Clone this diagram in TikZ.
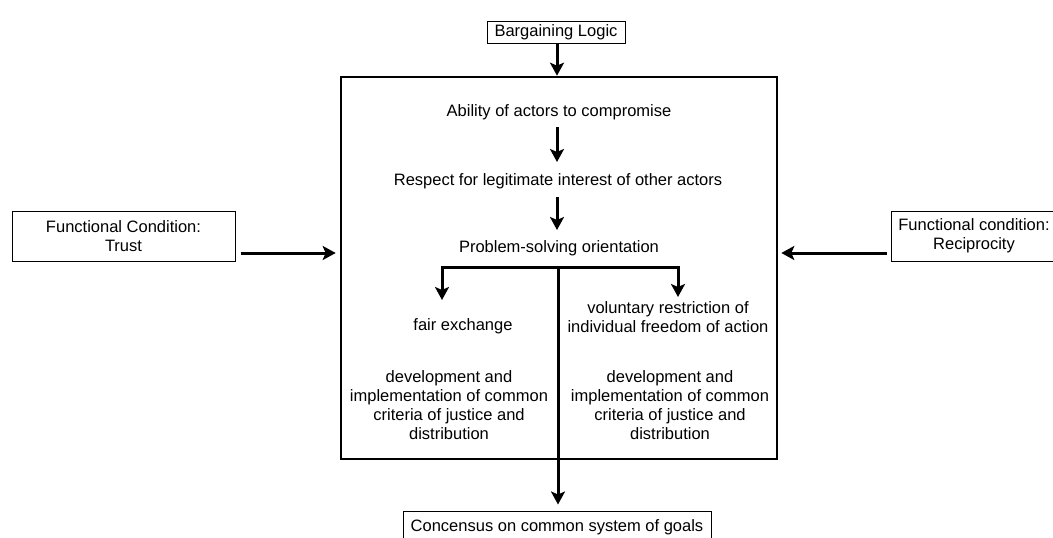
\documentclass[tikz,border=0pt]{standalone}
\usepackage{fontspec}
\setmainfont{Liberation Sans}
\usetikzlibrary{arrows.meta}
\begin{document}
\begin{tikzpicture}[x=1pt,y=-1pt,
  every node/.style={font=\fontsize{16.5}{19}\selectfont, align=center, inner sep=0pt},
  smallbox/.style={draw, line width=1pt, fill=white},
  mainbox/.style={draw, line width=2.6pt, minimum width=436pt, minimum height=382pt},
  arr/.style={line width=3pt, -{Stealth[length=13pt,width=14pt,inset=3pt]}},
  branch/.style={line width=3pt}]
\useasboundingbox (0,0) rectangle (1053,538);
\fill[white] (0,0) rectangle (1053,538);

% main box
\node[mainbox] (main) at (559,268) {};

% outer boxes
\node[smallbox, minimum width=138pt, minimum height=22pt] (bargain) at (556,32) {Bargaining Logic};
\node[smallbox, minimum width=223pt, minimum height=50pt] (trust) at (123.5,236) {Functional Condition:\\Trust};
\node[smallbox, minimum width=166pt, minimum height=50pt] (recip) at (974,236) {Functional condition:\\Reciprocity};
\node[smallbox, minimum width=308pt, minimum height=32pt] (cons) at (557,527) {Concensus on common system of goals};

% inner texts
\node (ability) at (559,112) {Ability of actors to compromise};
\node (respect) at (558,181) {Respect for legitimate interest of other actors};
\node (problem) at (559,248) {Problem-solving orientation};
\node (fair) at (463,326) {fair exchange};
\node (vol) at (668,317.5) {voluntary restriction of\\individual freedom of action};
\node (devL) at (449,405) {development and\\implementation of common\\criteria of justice and\\distribution};
\node (devR) at (670,405) {development and\\implementation of common\\criteria of justice and\\distribution};

% connectors
\draw[arr] (bargain.south -| 557,0) -- (557,0 |- main.north);
\draw[arr] ([yshift=-15pt]ability.center -| 557,0) -- ([yshift=19pt]respect.center -| 557,0);
\draw[arr] ([yshift=-16pt]respect.center -| 557,0) -- ([yshift=18pt]problem.center -| 557,0);

\coordinate (ta) at ([shift={(5pt,-17pt)}]trust.east);
\draw[arr, shorten >=4pt] (ta) -- (ta -| main.west);
\coordinate (ra) at ([shift={(-4pt,-17pt)}]recip.west);
\draw[arr, shorten >=3pt] (ra) -- (ra -| main.east);

\coordinate (bl) at (442,267);
\coordinate (bc) at (558,267);
\coordinate (brr) at (678,267);
\draw[branch, line cap=rect] (bl) -- (brr);
\path (fair.center) ++(0,-26) coordinate (fairtop);
\path (vol.center) ++(0,-20.5) coordinate (voltop);
\draw[arr] (bl) -- (bl |- fairtop);
\draw[arr] (brr) -- (brr |- voltop);
\draw[arr, shorten >=6pt] (bc) -- (bc |- cons.north);
\end{tikzpicture}
\end{document}
